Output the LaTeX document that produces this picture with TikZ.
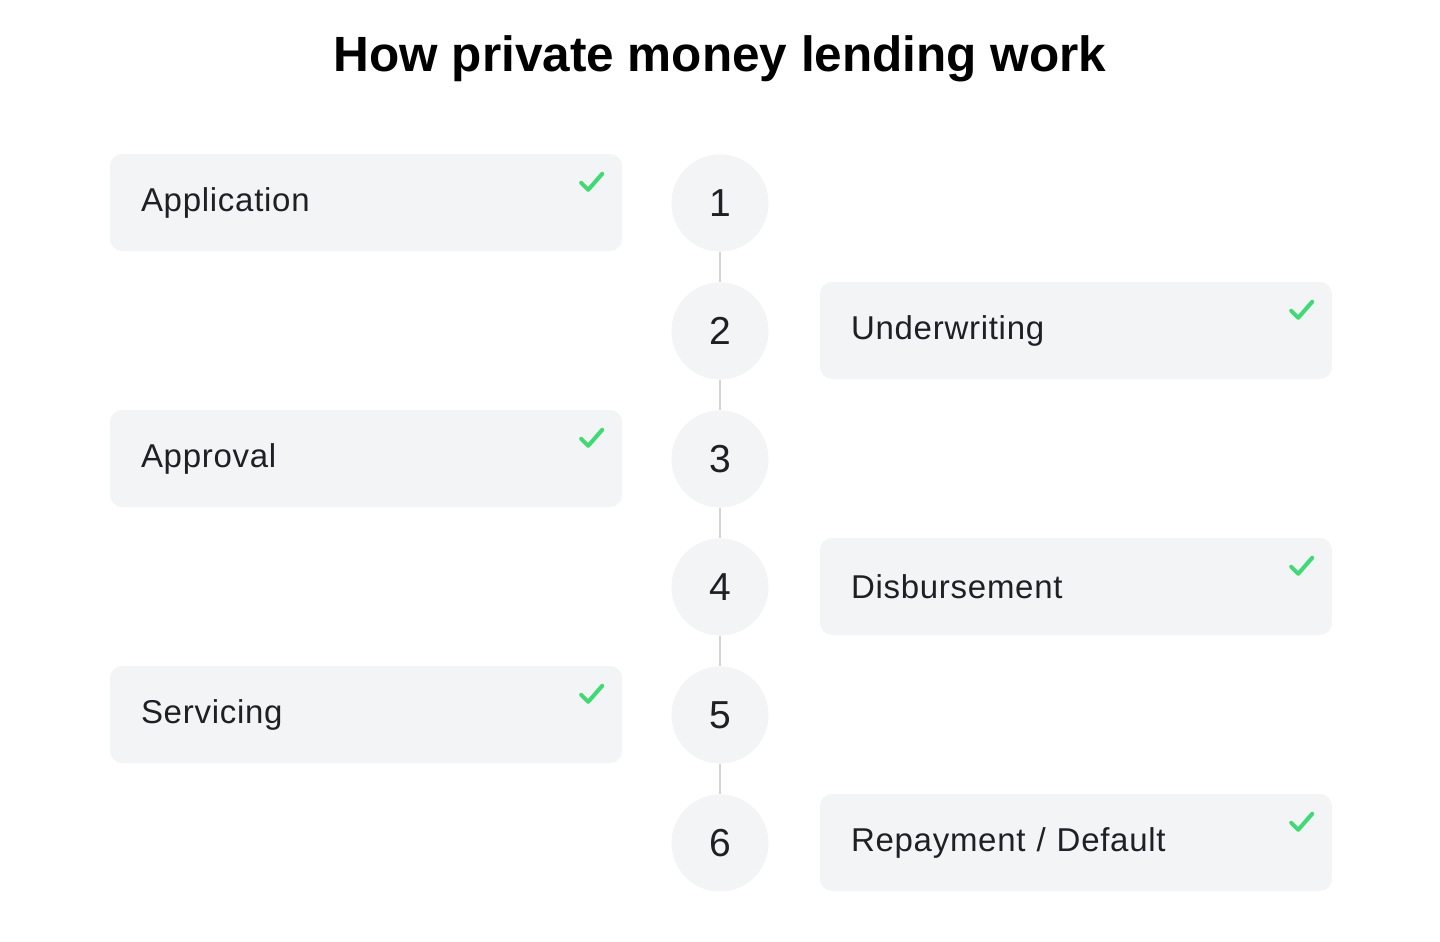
\documentclass[tikz,border=0pt]{standalone}
\usepackage{fontspec}
\setmainfont{Liberation Sans}
\newfontfamily\labelfont[LetterSpace=2.2]{Liberation Sans}
\definecolor{boxfill}{HTML}{F3F4F6}
\definecolor{linegray}{HTML}{D4D4D8}
\definecolor{txt}{HTML}{1F2024}
\definecolor{checkgreen}{HTML}{3DDC72}
\begin{document}
\begin{tikzpicture}[x=1pt,y=-1pt,
  stepcard/.style={draw=none,fill=boxfill,rounded corners=12pt,minimum width=512pt,minimum height=97pt,
    text width=450pt,inner xsep=31pt,inner ysep=0pt,align=left,font=\labelfont\fontsize{33}{38}\selectfont,text=txt},
  stepnum/.style={circle,fill=boxfill,minimum size=97pt,inner sep=0pt,font=\fontsize{39}{44}\selectfont,text=txt},
  link/.style={draw=linegray,line width=2pt},
  tick/.style={draw=checkgreen,line width=4pt,line cap=round,line join=round}]
\fill[white] (0,0) rectangle (1440,942);
\useasboundingbox (0,0) rectangle (1440,942);
\node[font=\bfseries\fontsize{49.5}{56}\selectfont,text=black] (title) at (720,59) {How private money lending work};
\foreach \i/\y in {1/203,2/331,3/459,4/587,5/715,6/843}{
  \node[stepnum] (c\i) at (720,\y) {\i};
}
\foreach \a/\b in {1/2,2/3,3/4,4/5,5/6}{
  \draw[link] (c\a.south) -- (c\b.north);
}
\node[stepcard] (s1) at (366,202.5) {\raisebox{-1pt}{Application}};
\node[stepcard] (s2) at (1076,330.5) {\raisebox{-1pt}{Underwriting}};
\node[stepcard] (s3) at (366,458.5) {\raisebox{-1pt}{Approval}};
\node[stepcard] (s4) at (1076,586.5) {\raisebox{-1pt}{Disbursement}};
\node[stepcard] (s5) at (366,714.5) {\raisebox{-1pt}{Servicing}};
\node[stepcard] (s6) at (1076,842.5) {\raisebox{-1pt}{Repayment / Default}};
\foreach \s in {s1,s2,s3,s4,s5,s6}{
  \draw[tick] ([shift={(-41,29)}]\s.north east) -- ([shift={(-34,36)}]\s.north east) -- ([shift={(-20,20)}]\s.north east);
}
\end{tikzpicture}
\end{document}
